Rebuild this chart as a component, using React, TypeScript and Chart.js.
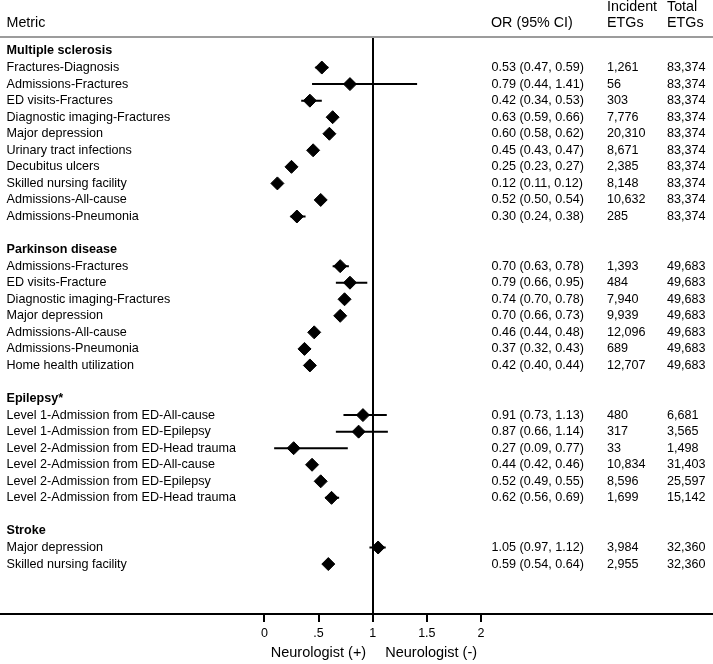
import React, { useEffect, useRef } from "react";
import { Chart, registerables } from "chart.js";

Chart.register(...registerables);

const groupNames = ["Multiple sclerosis", "Parkinson disease", "Epilepsy*", "Stroke"];

const metricGroups = [0, 0, 0, 0, 0, 0, 0, 0, 0, 0, 1, 1, 1, 1, 1, 1, 1, 2, 2, 2, 2, 2, 2, 3, 3];

const metricLabels = [
  "Fractures-Diagnosis",
  "Admissions-Fractures",
  "ED visits-Fractures",
  "Diagnostic imaging-Fractures",
  "Major depression",
  "Urinary tract infections",
  "Decubitus ulcers",
  "Skilled nursing facility",
  "Admissions-All-cause",
  "Admissions-Pneumonia",
  "Admissions-Fractures",
  "ED visits-Fracture",
  "Diagnostic imaging-Fractures",
  "Major depression",
  "Admissions-All-cause",
  "Admissions-Pneumonia",
  "Home health utilization",
  "Level 1-Admission from ED-All-cause",
  "Level 1-Admission from ED-Epilepsy",
  "Level 2-Admission from ED-Head trauma",
  "Level 2-Admission from ED-All-cause",
  "Level 2-Admission from ED-Epilepsy",
  "Level 2-Admission from ED-Head trauma",
  "Major depression",
  "Skilled nursing facility",
];

const oddsRatios = [0.53, 0.79, 0.42, 0.63, 0.6, 0.45, 0.25, 0.12, 0.52, 0.3, 0.7, 0.79, 0.74, 0.7, 0.46, 0.37, 0.42, 0.91, 0.87, 0.27, 0.44, 0.52, 0.62, 1.05, 0.59];
const ciLower = [0.47, 0.44, 0.34, 0.59, 0.58, 0.43, 0.23, 0.11, 0.5, 0.24, 0.63, 0.66, 0.7, 0.66, 0.44, 0.32, 0.4, 0.73, 0.66, 0.09, 0.42, 0.49, 0.56, 0.97, 0.54];
const ciUpper = [0.59, 1.41, 0.53, 0.66, 0.62, 0.47, 0.27, 0.12, 0.54, 0.38, 0.78, 0.95, 0.78, 0.73, 0.48, 0.43, 0.44, 1.13, 1.14, 0.77, 0.46, 0.55, 0.69, 1.12, 0.64];

const incidentEtgs = ["1,261", "56", "303", "7,776", "20,310", "8,671", "2,385", "8,148", "10,632", "285", "1,393", "484", "7,940", "9,939", "12,096", "689", "12,707", "480", "317", "33", "10,834", "8,596", "1,699", "3,984", "2,955"];
const totalEtgs = ["83,374", "83,374", "83,374", "83,374", "83,374", "83,374", "83,374", "83,374", "83,374", "83,374", "49,683", "49,683", "49,683", "49,683", "49,683", "49,683", "49,683", "6,681", "3,565", "1,498", "31,403", "25,597", "15,142", "32,360", "32,360"];

const tickValues = [0, 0.5, 1, 1.5, 2];
const tickLabels = ["0", ".5", "1", "1.5", "2"];

const headerMetric = "Metric";
const headerOR = "OR (95% CI)";
const headerIncident = ["Incident", "ETGs"];
const headerTotal = ["Total", "ETGs"];
const axisTitleLeft = "Neurologist (+)";
const axisTitleRight = "Neurologist (-)";

const FONT = '"Liberation Sans", Arial, Helvetica, sans-serif';

// build row layout: group header, items, blank between groups
const groupRows: number[] = [];
const metricRows: number[] = [];
(() => {
  let r = 0;
  let prev = -1;
  metricGroups.forEach((g, i) => {
    if (g !== prev) {
      if (prev !== -1) r += 1;
      groupRows[g] = r;
      r += 1;
      prev = g;
    }
    metricRows[i] = r;
    r += 1;
  });
})();

const fmt = (v: number) => v.toFixed(2);

const tablePlugin = {
  id: "forestTable",
  afterDraw(chart: any) {
    const { ctx, chartArea, scales } = chart;
    const ys = scales.y;
    const xs = scales.x;
    ctx.save();
    // header separator
    ctx.strokeStyle = "#9c9c9c";
    ctx.lineWidth = 2;
    ctx.beginPath();
    ctx.moveTo(0, chartArea.top);
    ctx.lineTo(chart.width, chartArea.top);
    ctx.stroke();

    ctx.fillStyle = "#000";
    ctx.textBaseline = "middle";
    ctx.textAlign = "left";

    // headers
    ctx.font = `14.3px ${FONT}`;
    ctx.fillText(headerMetric, 6.5, 23);
    ctx.fillText(headerOR, 491, 23);
    ctx.fillText(headerIncident[0], 607, 7);
    ctx.fillText(headerIncident[1], 607, 23);
    ctx.fillText(headerTotal[0], 667, 7);
    ctx.fillText(headerTotal[1], 667, 23);

    // group names
    ctx.font = `bold 12.6px ${FONT}`;
    groupNames.forEach((g, gi) => {
      ctx.fillText(g, 6.5, ys.getPixelForValue(groupRows[gi]));
    });

    // rows
    ctx.font = `12.6px ${FONT}`;
    metricLabels.forEach((lab, i) => {
      const py = ys.getPixelForValue(metricRows[i]);
      ctx.fillText(lab, 6.5, py);
      ctx.fillText(`${fmt(oddsRatios[i])} (${fmt(ciLower[i])}, ${fmt(ciUpper[i])})`, 491.5, py);
      ctx.fillText(incidentEtgs[i], 607, py);
      ctx.fillText(totalEtgs[i], 667, py);
    });

    // axis titles
    const x1 = xs.getPixelForValue(1);
    ctx.font = `14.5px ${FONT}`;
    ctx.textAlign = "right";
    ctx.fillText(axisTitleLeft, x1 - 6.5, 653);
    ctx.textAlign = "left";
    ctx.fillText(axisTitleRight, x1 + 12.5, 653);
    ctx.restore();
  },
};

export default function App() {
  const canvasRef = useRef<HTMLCanvasElement | null>(null);

  useEffect(() => {
    document.body.style.margin = "0";
    const canvas = canvasRef.current;
    if (!canvas) return;

    const ciData: any[] = [];
    metricRows.forEach((r, i) => {
      ciData.push({ x: ciLower[i], y: r });
      ciData.push({ x: ciUpper[i], y: r });
      ciData.push({ x: null, y: null });
    });
    const pointData = metricRows.map((r, i) => ({ x: oddsRatios[i], y: r }));

    const chart = new Chart(canvas, {
      type: "scatter",
      data: {
        datasets: [
          {
            data: ciData,
            showLine: true,
            spanGaps: false,
            borderColor: "#000",
            borderWidth: 2,
            pointRadius: 0,
            order: 2,
          },
          {
            data: pointData,
            pointStyle: "rectRot",
            pointRadius: 6.5,
            pointBorderWidth: 1,
            backgroundColor: "#000",
            borderColor: "#000",
            order: 1,
          },
        ],
      },
      options: {
        responsive: false,
        animation: false,
        devicePixelRatio: 1,
        events: [],
        layout: { autoPadding: false, padding: { top: 37, left: 0, right: 0, bottom: 0 } },
        plugins: { legend: { display: false }, tooltip: { enabled: false } },
        scales: {
          x: {
            type: "linear",
            min: -264.4 / 108.3,
            max: (713 - 264.4) / 108.3,
            afterFit: (scale: any) => {
              scale.height = 50;
            },
            afterBuildTicks: (scale: any) => {
              scale.ticks = tickValues.map((v) => ({ value: v }));
            },
            border: { display: true, color: "#000", width: 2 },
            grid: {
              drawOnChartArea: true,
              color: (c: any) => (c.tick && c.tick.value === 1 ? "#000" : "rgba(0,0,0,0)"),
              tickColor: "#000",
              lineWidth: 2,
              tickLength: 8,
            },
            ticks: {
              autoSkip: false,
              maxRotation: 0,
              padding: 4,
              color: "#000",
              font: { family: FONT, size: 12.5 },
              callback: (v: any) => {
                const idx = tickValues.indexOf(Number(v));
                return idx >= 0 ? tickLabels[idx] : "";
              },
            },
          },
          y: {
            type: "linear",
            display: false,
            reverse: true,
            min: -(51 - 37) / 16.55,
            max: (614 - 51) / 16.55,
          },
        },
      },
      plugins: [tablePlugin],
    });

    return () => chart.destroy();
  }, []);

  return (
    <div style={{ position: "absolute", left: 0, top: 0, width: 713, height: 664, background: "#fff" }}>
      <canvas ref={canvasRef} width={713} height={664} style={{ display: "block" }} />
    </div>
  );
}
